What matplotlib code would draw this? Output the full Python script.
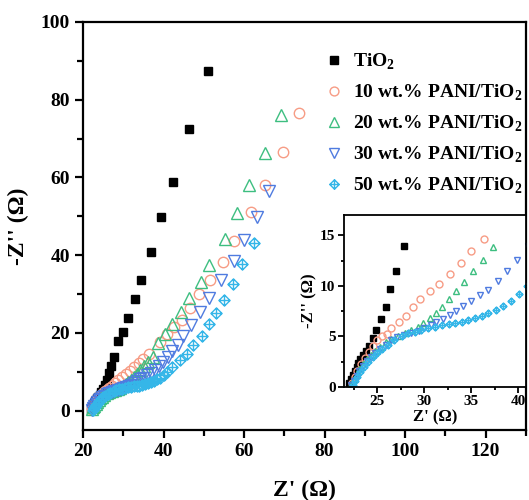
import numpy as np
import matplotlib
matplotlib.use("Agg")
import matplotlib.pyplot as plt
from matplotlib.path import Path
from matplotlib.ticker import MultipleLocator

plt.rcParams['font.family'] = ['Liberation Serif', 'DejaVu Serif']
plt.rcParams['font.weight'] = 'bold'
plt.rcParams['mathtext.fontset'] = 'custom'
plt.rcParams['mathtext.rm'] = 'Liberation Serif:bold'
plt.rcParams['mathtext.bf'] = 'Liberation Serif:bold'
plt.rcParams['axes.linewidth'] = 1.6

# ---- data (Z', -Z'') ----
tio2_x = [22.0, 22.2, 22.4, 22.6, 22.8, 23.0, 23.2, 23.5, 23.8, 24.1, 24.5, 24.9, 25.4, 25.9,
          26.4, 27.0, 27.8, 28.8, 29.9, 31.2, 32.8, 34.5, 36.8, 39.3, 42.4, 46.3, 51.0]
tio2_y = [0.4, 0.8, 1.2, 1.6, 2.0, 2.4, 2.8, 3.2, 3.6, 4.1, 4.8, 5.6, 6.7, 7.9,
          9.7, 11.5, 13.9, 17.8, 20.2, 23.7, 28.6, 33.7, 40.7, 49.7, 58.8, 72.4, 87.4]

p10_x = [22.3, 22.6, 22.9, 23.3, 23.7, 24.1, 24.5, 25.0, 25.5, 26.0, 26.5, 27.3, 28.05, 28.8,
         29.6, 30.6, 31.6, 32.7, 33.9, 35.0, 36.3, 39.2, 40.9, 42.6, 44.6, 46.6, 48.9,
         51.5, 54.7, 57.4, 61.75, 65.25, 69.75, 73.75]
p10_y = [0.4, 1.0, 1.6, 2.3, 2.9, 3.5, 4.1, 4.6, 5.0, 5.25, 5.8, 6.4, 7.0, 7.86,
         8.65, 9.5, 10.2, 11.2, 12.3, 13.4, 14.6, 17.6, 19.6, 21.4, 23.4, 26.5, 29.9,
         33.5, 38.2, 43.6, 51.0, 58.0, 66.5, 76.5]

p20_x = [22.2, 22.5, 22.8, 23.1, 23.5, 23.9, 24.3, 24.8, 25.3, 25.9, 26.5, 27.2, 27.9, 28.6,
         29.3, 29.9, 30.6, 31.2, 31.9, 32.6, 33.4, 34.2, 35.2, 36.2, 37.3, 38.7, 40.3,
         42.2, 44.3, 46.4, 49.3, 51.4, 55.25, 58.2, 61.3, 65.25, 69.1]
p20_y = [0.3, 0.8, 1.3, 1.8, 2.3, 2.8, 3.2, 3.6, 4.0, 4.4, 4.7, 5.0, 5.3, 5.6,
         5.9, 6.3, 6.8, 7.3, 7.9, 8.7, 9.5, 10.4, 11.45, 12.6, 13.8, 17.4, 19.8,
         22.3, 25.3, 29.0, 33.2, 37.5, 44.2, 50.9, 58.1, 66.4, 76.0]

p30_x = [22.2, 22.5, 22.8, 23.1, 23.5, 23.9, 24.3, 24.8, 25.3, 25.9, 26.5, 27.1, 27.8, 28.6,
         29.4, 30.0, 30.7, 31.3, 32.0, 32.7, 33.4, 34.15, 35.0, 35.9, 36.8, 37.8, 38.8, 39.9,
         41.0, 42.2, 43.5, 44.9, 46.75, 49.1, 51.3, 54.3, 57.5, 60.1, 63.2, 66.3]
p30_y = [0.2, 0.6, 1.1, 1.6, 2.1, 2.6, 3.0, 3.4, 3.8, 4.2, 4.6, 4.9, 5.1, 5.3,
         5.55, 5.85, 6.1, 6.4, 6.7, 7.1, 7.5, 8.0, 8.5, 9.1, 9.6, 10.5, 11.5, 12.6,
         13.9, 15.3, 17.0, 19.1, 21.9, 25.3, 28.9, 33.6, 38.6, 43.8, 49.9, 56.5]

p50_x = [22.4, 22.6, 22.9, 23.2, 23.6, 24.0, 24.5, 25.0, 25.5, 26.1, 26.8, 27.6, 28.3, 29.0,
         29.7, 30.4, 31.1, 31.85, 32.6, 33.3, 34.0, 34.7, 35.4, 36.1, 36.8, 37.6, 38.4, 39.2,
         40.1, 40.9, 42.2, 44.0, 45.75, 47.4, 49.5, 51.3, 53.0, 54.9, 57.2, 59.6, 62.4]
p50_y = [0.2, 0.6, 1.0, 1.5, 2.0, 2.5, 3.0, 3.4, 3.8, 4.2, 4.6, 5.0, 5.3, 5.45,
         5.6, 5.8, 5.95, 6.1, 6.2, 6.3, 6.45, 6.6, 6.8, 7.0, 7.3, 7.6, 8.0, 8.5,
         9.2, 9.97, 11.2, 12.9, 14.6, 16.8, 19.3, 22.2, 25.1, 28.5, 32.7, 37.6, 43.1]

labels = ['TiO$_2$', '10 wt.% PANI/TiO$_2$', '20 wt.% PANI/TiO$_2$',
          '30 wt.% PANI/TiO$_2$', '50 wt.% PANI/TiO$_2$']

# diamond with a cross inside
crossdiamond = Path([(0, 1), (1, 0), (0, -1), (-1, 0), (0, 1), (0, 1), (0, -1), (-1, 0), (1, 0)],
                    [Path.MOVETO, Path.LINETO, Path.LINETO, Path.LINETO, Path.CLOSEPOLY,
                     Path.MOVETO, Path.LINETO, Path.MOVETO, Path.LINETO])

series = [
    (tio2_x, tio2_y, dict(marker='s', color='black', mfc='black')),
    (p10_x, p10_y, dict(marker='o', color='#F79C85', mfc='none')),
    (p20_x, p20_y, dict(marker='^', color='#3DBE80', mfc='none')),
    (p30_x, p30_y, dict(marker='v', color='#4F7BE0', mfc='none')),
    (p50_x, p50_y, dict(marker=crossdiamond, color='#35B6E8', mfc='none')),
]
sizes_main = [6, 7.5, 8, 8, 8]
sizes_in = [3.8, 5, 5, 5, 5]

fig = plt.figure(figsize=(5.29, 5.0), dpi=100)
ax = fig.add_axes([0.157, 0.14, 0.837, 0.816])

for (x, y, st), ms, lab in zip(series, sizes_main, labels):
    ax.plot(x, y, ls='none', ms=ms, mew=1.0, label=lab, **st)

ax.set_xlim(20, 130)
ax.set_ylim(-5, 100)
ax.xaxis.set_major_locator(MultipleLocator(20))
ax.xaxis.set_minor_locator(MultipleLocator(10))
ax.yaxis.set_major_locator(MultipleLocator(20))
ax.yaxis.set_minor_locator(MultipleLocator(10))
ax.tick_params(which='major', direction='out', length=6, width=1.6, labelsize=14)
ax.tick_params(which='minor', direction='out', length=4, width=1.6)
ax.set_xlabel("Z' (Ω)", fontsize=17, fontweight='bold', labelpad=14)
ax.set_ylabel("-Z'' (Ω)", fontsize=17, fontweight='bold', labelpad=8)

leg = ax.legend(loc='upper left', bbox_to_anchor=(0.50, 0.97), frameon=False,
                fontsize=14, handletextpad=0.4, labelspacing=0.55,
                handlelength=1.2, markerscale=0.85)

# inset
axi = fig.add_axes([0.650, 0.226, 0.344, 0.344])
for (x, y, st), ms in zip(series, sizes_in):
    axi.plot(x, y, ls='none', ms=ms, mew=1.0, **st)
axi.set_xlim(21.45, 40.8)
axi.set_ylim(0, 17)
axi.xaxis.set_major_locator(MultipleLocator(5))
axi.xaxis.set_minor_locator(MultipleLocator(2.5))
axi.yaxis.set_major_locator(MultipleLocator(5))
axi.yaxis.set_minor_locator(MultipleLocator(2.5))
axi.tick_params(which='major', direction='out', length=4, width=1.3, labelsize=11, pad=2)
axi.tick_params(which='minor', direction='out', length=2.5, width=1.3)
for s in axi.spines.values():
    s.set_linewidth(1.3)
axi.set_xlabel("Z' (Ω)", fontsize=12, fontweight='bold', labelpad=1)
axi.set_ylabel("-Z'' (Ω)", fontsize=12, fontweight='bold', labelpad=2)

fig.savefig('out.png', dpi=100)
